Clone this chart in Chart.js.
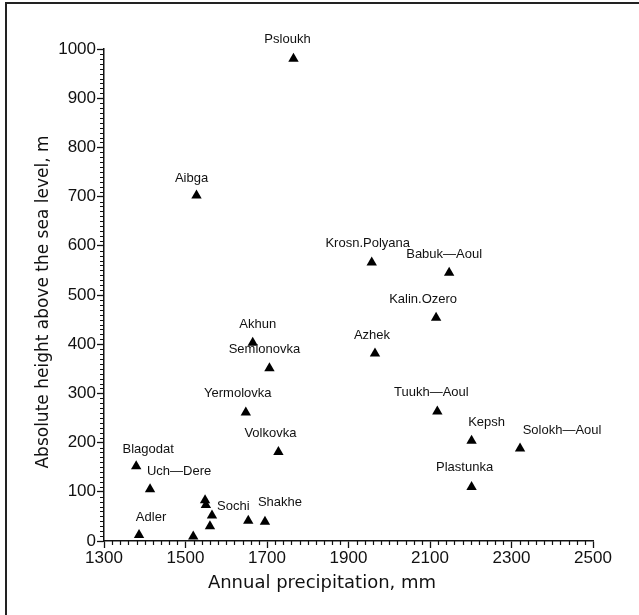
<!DOCTYPE html>
<html>
<head>
<meta charset="utf-8">
<script src="https://cdn.jsdelivr.net/npm/chart.js@4/dist/chart.umd.min.js"></script>
<style>
  body { margin: 0; background: #fff; }
</style>
</head>
<body>
<canvas id="grafico" width="639" height="615"></canvas>
<script>
const estacoes = ['Psloukh', 'Aibga', 'Krosn.Polyana', 'Babuk—Aoul', 'Kalin.Ozero', 'Azhek',
    'Tuukh—Aoul', 'Kepsh', 'Solokh—Aoul', 'Plastunka', 'Akhun', 'Semionovka', 'Yermolovka',
    'Volkovka', 'Blagodat', 'Uch—Dere', 'Adler', 'Sochi', 'Shakhe', '', '', '', '', ''];
const precipitacao = [1765, 1527, 1957, 2147, 2115, 1965, 2118, 2202, 2321, 2202, 1665, 1706,
    1648, 1728, 1379, 1413, 1386, 1654, 1695, 1519, 1548, 1550, 1560, 1565];
const altura = [980, 702, 566, 545, 454, 381, 263, 204, 188, 110, 403, 351,
    261, 181, 152, 105, 12, 41, 39, 9, 83, 73, 30, 52];
const ticksX = [1300, 1500, 1700, 1900, 2100, 2300, 2500];
const ticksY = [0, 100, 200, 300, 400, 500, 600, 700, 800, 900, 1000];
const tituloX = 'Annual precipitation, mm';
const tituloY = 'Absolute height above the sea level, m';

// deslocamento dos nomes em relacao ao triangulo (px)
const labelDx = [-6, -5, -4, -5, -13, -3, -6, 15, 42, -7, 5, -5, -8, -8, 12, 29, 12, -15, 15, 0, 0, 0, 0, 0];
const labelDy = [-19, -17, -19, -18, -18, -18, -19, -18, -18, -19, -18, -19, -19, -19, -17, -18, -18, -14, -19, 0, 0, 0, 0, 0];

const preto = '#111';
const fonte = '"Liberation Sans", Arial, sans-serif';
const fonteTitulo = '"DejaVu Sans", sans-serif';

const moldura = {
    id: 'moldura',
    beforeDraw(chart) {
        const c = chart.ctx;
        c.save();
        c.fillStyle = '#fff';
        c.fillRect(0, 0, chart.width, chart.height);
        c.strokeStyle = '#222';
        c.lineWidth = 2;
        c.beginPath();
        c.moveTo(6, chart.height);
        c.lineTo(6, 3);
        c.lineTo(chart.width, 3);
        c.stroke();
        c.restore();
    }
};

// tracinhos menores + titulos dos eixos
const tracinhos = {
    id: 'tracinhos',
    afterDraw(chart) {
        const c = chart.ctx;
        const area = chart.chartArea;
        const sx = chart.scales.x, sy = chart.scales.y;
        c.save();
        c.strokeStyle = preto;
        c.lineWidth = 1.2;
        c.beginPath();
        for (let v = 1300; v <= 2500; v += 20) {
            if ((v - 1300) % 200 === 0) continue;
            const px = Math.round(sx.getPixelForValue(v)) + 0.5;
            c.moveTo(px, area.bottom);
            c.lineTo(px, area.bottom + 4);
        }
        for (let v = 0; v <= 1000; v += 10) {
            if (v % 100 === 0) continue;
            const py = Math.round(sy.getPixelForValue(v)) + 0.5;
            c.moveTo(area.left, py);
            c.lineTo(area.left - 4, py);
        }
        c.stroke();

        c.fillStyle = preto;
        c.textAlign = 'center';
        c.textBaseline = 'middle';
        c.font = '18px ' + fonteTitulo;
        c.fillText(tituloX, area.left + 218, area.bottom + 42);
        c.translate(sy.left + 10, area.top + 253);
        c.rotate(-Math.PI / 2);
        c.font = '17px ' + fonteTitulo;
        c.fillText(tituloY, 0, 0);
        c.restore();
    }
};

const nomes = {
    id: 'nomes',
    afterDatasetsDraw(chart) {
        const c = chart.ctx;
        const meta = chart.getDatasetMeta(0);
        c.save();
        c.fillStyle = preto;
        c.font = '13px ' + fonte;
        c.textAlign = 'center';
        c.textBaseline = 'middle';
        meta.data.forEach((pt, i) => {
            if (!estacoes[i]) return;
            c.fillText(estacoes[i], pt.x + labelDx[i], pt.y + labelDy[i]);
        });
        c.restore();
    }
};

new Chart(document.getElementById('grafico'), {
    type: 'scatter',
    data: {
        labels: estacoes,
        datasets: [{
            data: precipitacao.map((p, i) => ({ x: p, y: altura[i] })),
            pointStyle: 'triangle',
            pointRadius: 6,
            backgroundColor: '#000',
            borderWidth: 0,
        }]
    },
    options: {
        responsive: false,
        animation: false,
        devicePixelRatio: 1,
        layout: { padding: { left: 34, right: 46, top: 49, bottom: 21 } },
        plugins: {
            legend: { display: false },
            tooltip: { enabled: false },
        },
        scales: {
            x: {
                type: 'linear',
                min: 1300,
                max: 2500,
                afterBuildTicks(s) { s.ticks = ticksX.map(v => ({ value: v })); },
                afterFit(s) { s.height = 53; },
                grid: { drawOnChartArea: false, tickLength: 7, tickColor: preto, tickWidth: 1.3 },
                border: { color: preto, width: 1.5 },
                ticks: { color: preto, font: { family: fonte, size: 17 }, padding: 0, maxRotation: 0, autoSkip: false,
                    callback: v => String(v) },
            },
            y: {
                min: 0,
                max: 1000,
                afterBuildTicks(s) { s.ticks = ticksY.map(v => ({ value: v })); },
                afterFit(s) { s.width = 70; },
                grid: { drawOnChartArea: false, tickLength: 7, tickColor: preto, tickWidth: 1.3 },
                border: { color: preto, width: 1.5 },
                ticks: { color: preto, font: { family: fonte, size: 17 }, padding: 1, autoSkip: false,
                    callback: v => String(v) },
            }
        }
    },
    plugins: [moldura, tracinhos, nomes]
});
</script>
</body>
</html>
